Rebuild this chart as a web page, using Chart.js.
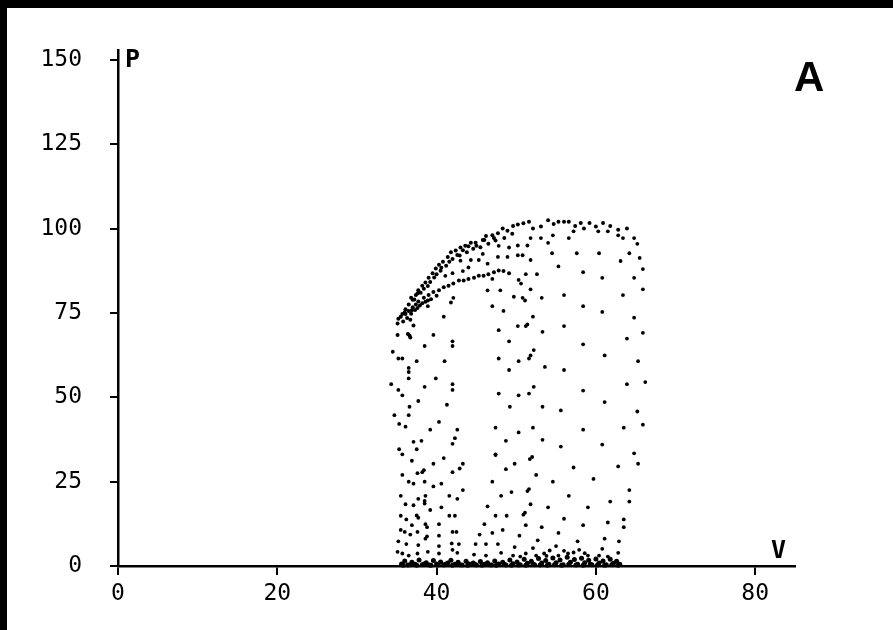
<!DOCTYPE html>
<html>
<head>
<meta charset="utf-8">
<script src="https://cdn.jsdelivr.net/npm/chart.js@4.4.0/dist/chart.umd.min.js"></script>
<style>
  html, body { margin: 0; padding: 0; background: #000; }
  #wrap { position: absolute; left: 7px; top: 8px; width: 886px; height: 622px; background: #fff; }
</style>
</head>
<body>
<div id="wrap"><canvas id="pvChart"></canvas></div>
<script>
// axis ticks
const xTicks = [0, 20, 40, 60, 80];
const yTicks = [0, 25, 50, 75, 100, 125, 150];

// outer rim of the loop (V, P)
const upperRim = [
  [35.1,71.9],[35.2,73.3],[35.7,74.7],[36.1,76.1],[36.5,77.5],[37.0,78.9],[37.4,80.3],[37.7,81.7],
  [38.2,83.1],[38.6,84.0],[39.0,85.4],[39.5,86.8],[39.9,88.2],[40.3,89.3],[40.8,90.2],[41.4,91.6],
  [41.8,93.0],[42.4,93.5],[43.0,94.4],[43.6,94.9],[44.3,95.8],[44.9,95.8],[45.8,96.6],[46.2,97.8],
  [47.0,98.0],[47.7,98.6],[48.3,100.0],[48.9,99.4],[49.6,100.8],[50.2,101.2],[50.9,101.6],[51.6,102.0],
  [52.1,100.0],[53.1,100.6],[54.0,102.5],[54.7,101.4],[55.3,102.0],[56.0,102.0],[56.6,102.0],[57.4,100.8],
  [58.1,101.7],[58.5,100.0],[59.2,101.7],[60.0,100.6],[60.9,101.7],[61.8,100.8],[62.8,99.7],[63.9,100.0],
  [38.0,81.0],[38.9,83.0],[39.7,85.5],[40.5,87.5],[41.2,89.0],[42.0,91.0],[42.9,92.0],[43.8,93.0],
  [44.6,94.0],[45.5,94.5],[46.5,95.5],[47.4,96.5],[48.5,97.2],[49.5,98.5],
  [36.8,79.5],[37.2,79.0],[37.6,80.8],[38.4,82.2],[39.2,84.2],[40.0,86.5],[40.6,88.4],[41.6,90.2],
  [42.6,92.2],[43.3,93.6],[44.0,94.8],[45.0,94.9],[46.0,96.6],[47.2,97.2]
];

// inner dense ridge
const innerRidge = [
  [36.1,74.7],[36.5,75.6],[37.0,76.7],[37.4,77.5],[37.7,78.4],[38.4,79.5],[39.0,80.3],[39.6,81.2],
  [40.3,81.7],[40.9,82.6],[41.5,83.1],[42.1,83.7],[42.8,84.6],[43.4,84.6],[44.0,85.1],[44.7,85.4],
  [45.3,86.0],[45.9,86.0],[46.5,86.5],[47.2,87.1],[47.8,87.6],[48.4,87.4],[49.1,86.8],
  [36.3,73.5],[36.8,74.8],[37.3,75.9],[37.9,77.2],[38.6,78.3],[39.3,79.1],[40.0,80.1],[35.8,72.5],
  [36.7,73.0],[37.1,71.3],[35.1,68.5],[36.6,68.3],[36.4,68.8],[36.7,67.7],
  [35.5,73.9],[36.0,75.2],[36.9,75.8],[37.6,76.5],[38.2,77.9],[38.9,78.7]
];

// dots in the upper part of the loop
const upperCloud = [
  [44.3,90.7],[45.3,90.7],[46.4,89.6],[47.7,91.6],[48.9,91.6],[47.0,85.1],[43.3,87.4],[42.0,86.8],
  [41.1,86.0],[47.8,94.9],[49.1,94.4],[46.4,81.7],[48.0,81.7],[49.7,79.8],[42.1,79.5],[41.8,78.1],
  [47.0,77.0],[38.9,77.0],[48.4,75.6],[40.9,73.9],[50.2,71.1],[44.0,88.5],[45.8,92.5],[43.0,90.5],
  [54.5,92.7],[57.6,92.7],[60.4,92.7],[64.2,92.7],[65.5,91.3],[63.1,90.4],[51.8,90.7],[50.2,92.1],
  [50.8,92.1],[55.3,88.8],[58.4,87.1],[60.8,85.4],[64.8,85.4],[51.2,86.5],[52.6,86.5],[50.3,84.8],
  [50.6,83.7],[51.8,82.0],[65.9,82.0],[56.0,80.3],[63.4,80.3],[53.2,79.5],[50.8,79.5],[51.1,78.7],
  [58.4,77.0],[60.8,75.3],[64.8,73.6],[52.1,73.9],[51.4,71.6],[51.2,71.1],[56.0,71.1],[62.8,98.0],
  [63.4,97.2],[64.8,97.2],[51.8,97.2],[53.1,97.2],[54.6,98.0],[54.0,95.8],[56.6,97.2],[57.2,99.2],
  [60.3,99.2],[61.5,99.2],[50.2,95.0],[51.4,95.0],[65.2,95.5],[65.9,88.0]
];

// dots in the middle of the loop
const midCloud = [
  [39.6,68.5],[42.0,66.6],[42.0,65.2],[38.5,65.2],[34.5,63.5],[35.2,61.5],[35.7,61.5],[37.5,60.7],
  [41.0,60.7],[36.5,58.7],[36.5,57.5],[36.5,55.6],[39.9,55.6],[34.3,53.9],[42.0,53.9],[42.0,52.2],
  [38.5,53.1],[35.2,52.2],[35.7,50.6],[37.7,48.9],[41.3,47.8],[36.6,47.2],[34.7,44.7],[36.5,44.7],
  [40.3,42.7],[35.3,42.1],[36.1,41.3],[39.2,40.4],[42.6,40.4],[42.3,37.9],[37.1,36.8],[37.5,34.6],
  [38.1,37.1],[42.0,36.2],[35.3,34.6],[35.7,33.1],
  [47.8,69.9],[49.1,66.6],[47.8,61.5],[49.1,58.1],[47.8,51.1],[49.2,47.2],[47.4,41.0],[50.3,39.6],
  [48.7,37.1],[47.4,33.1],[50.3,60.7],[50.3,50.6],
  [53.3,69.4],[65.9,69.1],[63.9,67.4],[58.4,65.7],[52.2,64.0],[51.8,62.4],[51.6,61.5],[61.1,62.4],
  [65.3,60.7],[53.6,59.0],[56.0,58.1],[66.2,54.5],[63.9,53.9],[52.2,53.1],[51.6,51.1],[58.4,52.0],
  [61.1,48.6],[53.3,47.2],[55.6,46.1],[65.2,45.8],[65.9,41.9],[63.5,41.0],[52.1,41.0],[58.4,40.4],
  [53.3,37.4],[55.6,35.4],[60.8,36.0],[64.8,33.4]
];

// dots in the lower part of the loop
const lowerCloud = [
  [36.9,31.2],[39.6,30.3],[40.9,32.0],[38.2,27.8],[38.4,28.4],[37.6,27.5],[35.7,27.0],[42.0,27.8],
  [42.9,28.9],[43.3,30.3],[36.5,25.0],[37.1,24.4],[38.5,25.0],[39.6,23.6],[40.6,24.4],[43.3,22.5],
  [35.5,20.8],[38.6,20.8],[37.7,19.9],[41.6,20.8],[42.6,19.9],[36.1,18.3],[37.1,18.0],[38.5,18.5],
  [38.5,19.3],[40.6,17.4],[35.5,14.9],[36.2,13.8],[37.7,14.3],[37.5,15.0],[39.2,16.6],[38.6,12.4],
  [38.8,11.5],[36.9,12.1],[40.3,12.4],[41.6,14.9],[42.3,14.9],[35.5,10.7],[36.0,10.1],[36.7,9.3],
  [37.6,10.1],[38.6,8.1],[38.8,8.8],[40.3,9.0],[42.0,10.1],[42.5,10.1],[35.2,7.3],[36.2,6.5],
  [37.7,6.2],[40.3,5.9],[41.9,6.7],[42.8,6.5],[35.1,4.2],[35.7,3.7],[36.5,3.1],[37.6,3.7],
  [38.9,4.2],[40.3,3.7],[42.0,4.8],[42.6,3.9],
  [47.4,32.9],[49.8,30.3],[51.7,31.7],[52.0,32.3],[48.7,28.7],[52.5,27.0],[47.0,25.0],[54.6,25.0],
  [57.2,29.2],[59.7,25.8],[62.8,29.5],[65.3,30.3],[49.4,21.9],[51.4,22.2],[51.6,22.8],[48.1,20.8],
  [56.6,20.8],[51.8,18.3],[54.0,17.4],[46.4,17.7],[59.0,17.4],[61.8,19.1],[64.2,22.5],[64.2,19.1],
  [47.4,14.9],[48.8,14.9],[50.9,15.2],[51.1,15.8],[56.0,14.0],[46.0,12.4],[48.3,10.7],[51.2,12.1],
  [53.2,11.5],[55.3,9.8],[58.4,12.1],[61.5,12.9],[63.5,13.8],[63.5,11.5],[45.4,9.3],[47.0,9.8],
  [50.4,9.0],[52.7,7.6],[57.7,7.3],[61.1,8.1],[62.9,7.3],[44.9,6.5],[46.2,6.5],[47.7,6.5],
  [49.8,5.6],[52.1,5.3],[55.0,5.9],[60.8,5.1],[62.8,3.9],[57.9,4.8],[53.5,3.7],[55.3,3.1],
  [56.5,3.7],[59.0,3.1],[60.4,3.1],[44.7,3.4],[46.2,3.1],[48.1,3.9],[49.6,3.1],[51.2,3.7],[52.5,3.1],
  [50.5,2.8],[53.8,3.0],[56.0,4.5],[57.2,4.0],[58.6,3.8],[61.5,2.8],[54.2,4.6]
];

// filling phase along the V axis
const baseBand = [
  [35.6,0.6],[36.0,1.5],[36.4,0.3],[36.9,1.1],[37.3,0.5],[37.8,1.8],[38.2,0.4],[38.7,1.0],
  [39.1,0.3],[39.6,1.6],[40.0,0.6],[40.5,1.2],[40.9,0.3],[41.4,0.9],[41.8,1.7],[42.3,0.5],
  [42.7,1.1],[43.2,0.3],[43.7,1.4],[44.1,0.6],[44.6,0.9],[45.0,0.3],[45.5,1.3],[46.0,0.5],
  [46.4,1.0],[46.9,0.3],[47.3,1.5],[47.8,0.6],[48.3,1.1],[48.7,0.3],[49.2,1.8],[49.6,0.7],
  [50.1,1.2],[50.5,0.4],[51.0,2.0],[51.4,0.8],[51.9,1.4],[52.3,0.4],[52.8,2.2],[53.2,0.9],
  [53.7,1.6],[54.1,0.5],[54.6,2.4],[55.0,1.0],[55.5,1.8],[55.9,0.4],[56.4,2.6],[56.8,1.1],
  [57.3,1.9],[57.7,0.5],[58.2,2.3],[58.6,1.0],[59.1,1.7],[59.5,0.4],[60.0,2.1],[60.4,0.9],
  [60.9,1.5],[61.3,0.4],[61.8,2.0],[62.2,0.8],[62.6,1.4],[63.0,0.5],
  [35.8,0.2],[36.7,0.4],[37.5,0.2],[38.4,0.6],[39.3,0.2],[40.2,0.3],[41.1,0.5],[42.0,0.2],
  [42.9,0.4],[43.9,0.2],[44.8,0.5],[45.7,0.2],[46.6,0.4],[47.5,0.2],[48.5,0.5],[49.4,0.2],
  [50.3,0.3],[51.2,0.2],[52.1,0.6],[53.0,0.3],[53.9,0.2],[54.8,0.4],[55.7,0.2],[56.6,0.5],
  [57.5,0.3],[58.4,0.2],[59.3,0.5],[60.2,0.3],[61.1,0.2],[62.0,0.4],[62.8,0.2]
];

function toPts(arr) {
  return arr.map(p => ({ x: p[0], y: p[1] }));
}

function dotSet(arr, r) {
  return {
    data: toPts(arr),
    backgroundColor: '#000',
    borderWidth: 0,
    pointRadius: r,
    pointHoverRadius: r,
    clip: false
  };
}

const monoFont = { family: "'DejaVu Sans Mono', monospace", size: 23 };

// axis names and panel letter
const labelPlugin = {
  id: 'labels',
  afterDraw(chart) {
    const ctx = chart.ctx;
    const xs = chart.scales.x, ys = chart.scales.y;
    ctx.save();
    ctx.fillStyle = '#000';
    ctx.textAlign = 'left';
    ctx.textBaseline = 'alphabetic';
    ctx.font = "bold 25px 'DejaVu Sans Mono'";
    ctx.fillText('P', xs.getPixelForValue(0) + 7, ys.getPixelForValue(150) + 7);
    ctx.fillText('V', xs.getPixelForValue(82), ys.getPixelForValue(0) - 8);
    ctx.font = "bold 42px 'Liberation Sans'";
    ctx.fillText('A', 787, 83);
    ctx.restore();
  }
};

new Chart(document.getElementById('pvChart'), {
  type: 'scatter',
  data: {
    datasets: [
      dotSet(upperRim, 2),
      dotSet(innerRidge, 2),
      dotSet(upperCloud, 1.9),
      dotSet(midCloud, 1.9),
      dotSet(lowerCloud, 1.9),
      dotSet(baseBand, 2.5)
    ]
  },
  options: {
    responsive: true,
    maintainAspectRatio: false,
    animation: false,
    layout: { padding: { top: 12, right: 98, bottom: 0, left: 0 } },
    plugins: { legend: { display: false }, tooltip: { enabled: false } },
    scales: {
      x: {
        type: 'linear',
        min: 0,
        max: 85,
        afterBuildTicks: s => { s.ticks = xTicks.map(v => ({ value: v })); },
        afterFit: s => { s.height = 64; },
        ticks: { color: '#000', font: monoFont, padding: 5, maxRotation: 0 },
        grid: { drawOnChartArea: false, drawTicks: true, tickLength: 9, color: '#000', lineWidth: 2 },
        border: { display: true, color: '#000', width: 2.5 }
      },
      y: {
        type: 'linear',
        min: 0,
        max: 153,
        afterBuildTicks: s => { s.ticks = yTicks.map(v => ({ value: v })); },
        afterFit: s => { s.width = 111; },
        ticks: { color: '#000', font: monoFont, padding: 28 },
        grid: { drawOnChartArea: false, drawTicks: true, tickLength: 8, color: '#000', lineWidth: 2 },
        border: { display: true, color: '#000', width: 2.5 }
      }
    }
  },
  plugins: [labelPlugin]
});
</script>
</body>
</html>
